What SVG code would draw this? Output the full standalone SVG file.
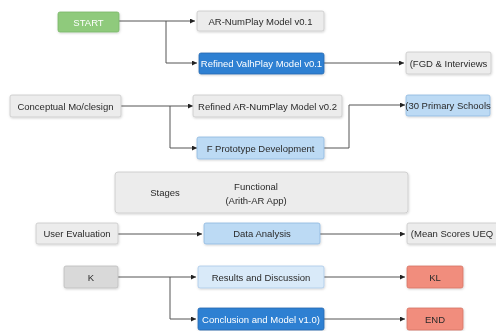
<svg xmlns="http://www.w3.org/2000/svg" width="496" height="331" viewBox="0 0 496 331">
<defs>
<marker id="arr" viewBox="0 0 6 6" refX="6" refY="3" markerWidth="5" markerHeight="5" orient="auto" markerUnits="userSpaceOnUse">
<path d="M0,0 L6,3 L0,6 z" fill="#222"/>
</marker>
<filter id="sh" x="-10%" y="-20%" width="120%" height="150%">
<feDropShadow dx="0.5" dy="1" stdDeviation="0.8" flood-color="#000" flood-opacity="0.18"/>
</filter>
</defs>
<style>
text{font-family:"Liberation Sans",Arial,sans-serif;font-size:9.5px;text-anchor:middle;dominant-baseline:central}
.box{filter:url(#sh)}
.gray{fill:#ececec;stroke:#c9c9c9;stroke-width:0.8}
.gray2{fill:#d9d9d9;stroke:#bdbdbd;stroke-width:0.8}
.green{fill:#8fca7c;stroke:#79b667;stroke-width:0.8}
.dblue{fill:#2e80d2;stroke:#2468b0;stroke-width:0.8}
.lblue{fill:#bcdaf4;stroke:#8eb7df;stroke-width:0.8}
.vlblue{fill:#d9eaf9;stroke:#a9c9e8;stroke-width:0.8}
.red{fill:#f18d7d;stroke:#d77565;stroke-width:0.8}
.tw{fill:#ffffff}
.td{fill:#2a2a2a}
.conn path{fill:none;stroke:#555;stroke-width:1}
</style>
<rect width="496" height="331" fill="#ffffff"/>
<g class="conn">
<path d="M119,21 H195" marker-end="url(#arr)"/>
<path d="M166,21 V63 H197" marker-end="url(#arr)"/>
<path d="M324,63 H404" marker-end="url(#arr)"/>
<path d="M121,106 H193" marker-end="url(#arr)"/>
<path d="M170,106 V148 H197" marker-end="url(#arr)"/>
<path d="M324,148 H349 V105 H405" marker-end="url(#arr)"/>
<path d="M118,234 H202" marker-end="url(#arr)"/>
<path d="M320,234 H405" marker-end="url(#arr)"/>
<path d="M118,277 H196" marker-end="url(#arr)"/>
<path d="M170,277 V319 H196" marker-end="url(#arr)"/>
<path d="M324,277 H405" marker-end="url(#arr)"/>
<path d="M324,319 H405" marker-end="url(#arr)"/>
</g>
<g id="start" class="box"><rect class="green" x="58" y="12" width="61" height="20" rx="2"/><text class="tw" x="88.5" y="22">START</text></g>
<g id="ar01" class="box"><rect class="gray" x="197" y="11" width="127" height="20" rx="2"/><text class="td" x="260.5" y="21">AR-NumPlay Model v0.1</text></g>
<g id="refined01" class="box"><rect class="dblue" x="199" y="53" width="125" height="21" rx="2"/><text class="tw" x="261.5" y="63.5" font-size="9">Refined ValhPlay Model v0.1</text></g>
<g id="fgd" class="box"><rect class="gray" x="406" y="52" width="85" height="22" rx="2"/><text class="td" x="448.5" y="63">(FGD &amp; Interviews</text></g>
<g id="conceptual" class="box"><rect class="gray" x="10" y="95" width="111" height="22" rx="2"/><text class="td" x="65.5" y="106">Conceptual Mo/clesign</text></g>
<g id="ar02" class="box"><rect class="gray" x="193" y="95" width="149" height="22" rx="2"/><text class="td" x="267.5" y="106">Refined AR-NumPlay Model v0.2</text></g>
<g id="proto" class="box"><rect class="lblue" x="197" y="137" width="127" height="22" rx="2"/><text class="td" x="260.5" y="148">F  Prototype Development</text></g>
<g id="schools" class="box"><rect class="lblue" x="406" y="95" width="84" height="21" rx="2"/><text class="td" x="448" y="105.5" font-size="9">(30 Primary Schools</text></g>
<g id="stages" class="box"><rect class="gray" x="115" y="172" width="293" height="41" rx="3"/><text class="td" x="165" y="192" font-size="11.5">Stages</text><text class="td" x="256" y="186" font-size="11.5">Functional</text><text class="td" x="256" y="200" font-size="9">(Arith-AR App)</text></g>
<g id="user" class="box"><rect class="gray" x="36" y="223" width="82" height="21" rx="2"/><text class="td" x="77" y="233.5">User Evaluation</text></g>
<g id="data" class="box"><rect class="lblue" x="204" y="223" width="116" height="21" rx="2"/><text class="td" x="262" y="233.5">Data Analysis</text></g>
<g id="mean" class="box"><rect class="gray" x="407" y="223" width="95" height="21" rx="2"/><text class="td" x="452" y="233.5">(Mean Scores UEQ</text></g>
<g id="k" class="box"><rect class="gray2" x="64" y="266" width="54" height="22" rx="2"/><text class="td" x="91" y="277">K</text></g>
<g id="results" class="box"><rect class="vlblue" x="198" y="266" width="126" height="22" rx="2"/><text class="td" x="261" y="277">Results and Discussion</text></g>
<g id="kl" class="box"><rect class="red" x="407" y="266" width="56" height="22" rx="2"/><text class="td" x="435" y="277">KL</text></g>
<g id="conclusion" class="box"><rect class="dblue" x="198" y="308" width="126" height="22" rx="2"/><text class="tw" x="261" y="319" font-size="9">Conclusion and Model v1.0)</text></g>
<g id="end" class="box"><rect class="red" x="407" y="308" width="56" height="22" rx="2"/><text class="td" x="435" y="319">END</text></g>
</svg>
